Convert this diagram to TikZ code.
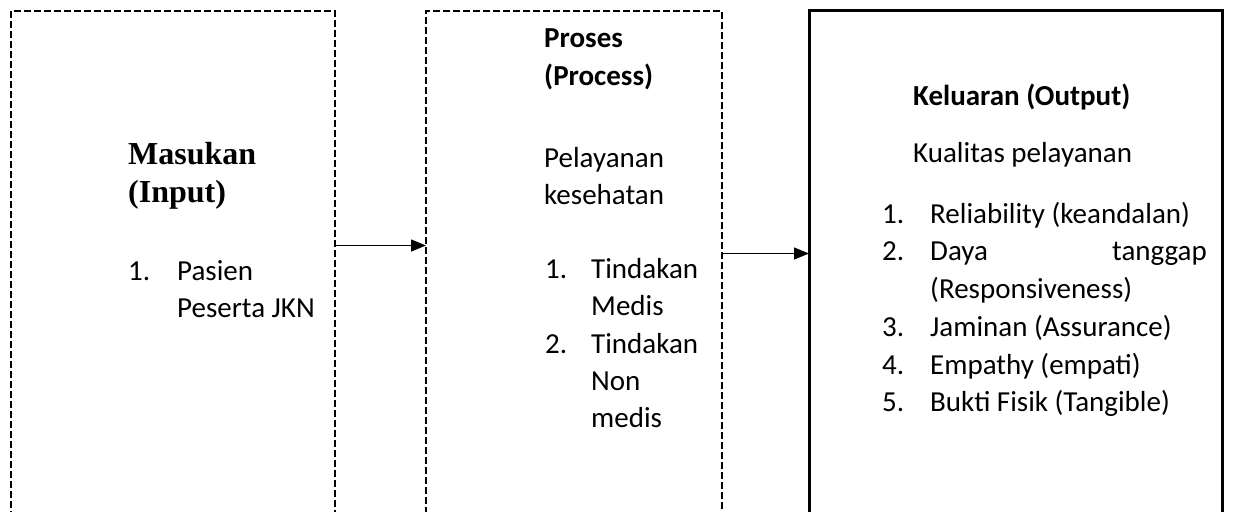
\documentclass[tikz,border=0pt]{standalone}
\usepackage{fontspec}
\setmainfont{Carlito}
\newfontfamily\serifbold{Liberation Serif}
\usetikzlibrary{arrows.meta}
\begin{document}
\begin{tikzpicture}[x=1pt,y=-1pt,
  dbox/.style={draw, line width=2pt, dash pattern=on 7pt off 3pt, outer sep=0pt, inner sep=0pt, anchor=north west},
  sbox/.style={draw, line width=3pt, outer sep=0pt, inner sep=0pt, anchor=north west},
  txt/.style={anchor=base west, inner sep=0pt, font=\fontsize{29}{36}\selectfont},
  btxt/.style={anchor=base west, inner sep=0pt, font=\fontsize{29}{36}\selectfont\bfseries},
  stxt/.style={anchor=base west, inner sep=0pt, font=\fontsize{32}{38}\selectfont\serifbold\bfseries},
  arr/.style={line width=1.3pt, -{Triangle[length=15pt,width=12pt]}}]
\useasboundingbox (0,0) rectangle (1233,511);
% boxes
\node[dbox, minimum width=324pt, minimum height=502pt] (in) at (11,11) {};
\node[dbox, minimum width=296pt, minimum height=502pt] (proc) at (426,11) {};
\node[sbox, minimum width=413pt, minimum height=502pt] (out) at (809,11) {};
% arrows
\draw[arr] ([yshift=16.5pt]in.east) -- ([yshift=16.5pt]proc.west);
\draw[arr] ([yshift=8.5pt]proc.east) -- ([yshift=8.5pt]out.west);
% input text
\node[stxt] (t1) at (128,164) {Masukan};
\node[stxt] (t2) at (128,202) {(Input)};
\node[txt] (t3) at (128,280) {1.};
\node[txt] (t4) at (177,280) {Pasien};
\node[txt] (t5) at (177,317) {Peserta JKN};
% process text
\node[btxt] (p1) at (544,48) {Proses};
\node[btxt] (p2) at (544,85) {(Process)};
\node[txt] (p3) at (544,167) {Pelayanan};
\node[txt] (p4) at (544,204) {kesehatan};
\node[txt] (p5) at (545,278) {1.};
\node[txt] (p6) at (591,278) {Tindakan};
\node[txt] (p7) at (591,315) {Medis};
\node[txt] (p8) at (545,353) {2.};
\node[txt] (p9) at (591,353) {Tindakan};
\node[txt] (p10) at (591,390) {Non};
\node[txt] (p11) at (591,427) {medis};
% output text
\node[btxt] (o1) at (913,105) {Keluaran (Output)};
\node[txt] (o2) at (913,162) {Kualitas pelayanan};
\node[txt] (n1) at (882,223) {1.};
\node[txt] (o3) at (930,223) {Reliability (keandalan)};
\node[txt] (n2) at (882,260) {2.};
\node[txt] (o4) at (930,260) {Daya};
\node[txt, anchor=base east] (o5) at (1207,260) {tanggap};
\node[txt] (o6) at (930,298) {(Responsiveness)};
\node[txt] (n3) at (882,336) {3.};
\node[txt] (o7) at (930,336) {Jaminan (Assurance)};
\node[txt] (n4) at (882,374) {4.};
\node[txt] (o8) at (930,374) {Empathy (empati)};
\node[txt] (n5) at (882,411) {5.};
\node[txt] (o9) at (930,411) {Bukti Fisik (Tangible)};
\end{tikzpicture}
\end{document}
